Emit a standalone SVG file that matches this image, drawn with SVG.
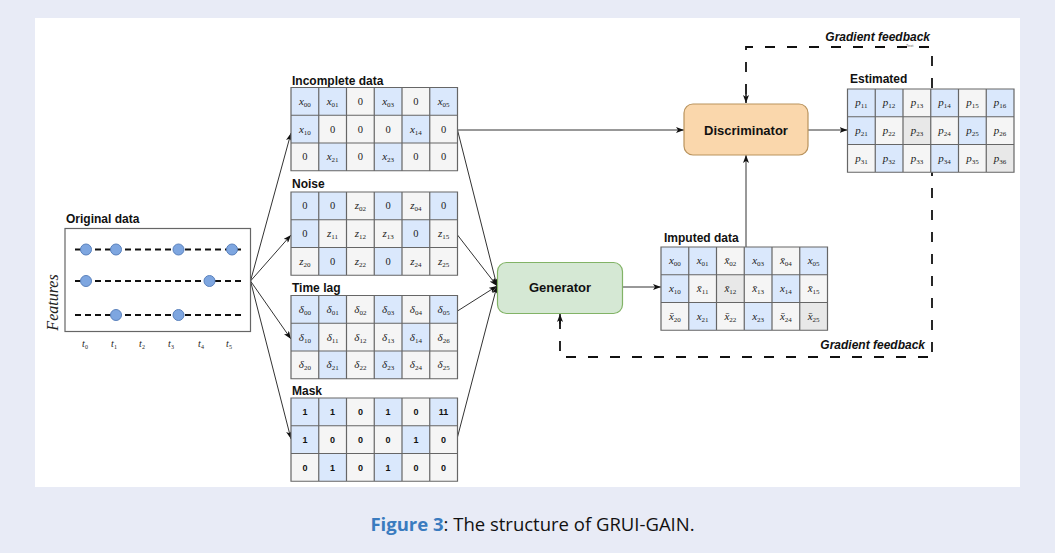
<svg xmlns="http://www.w3.org/2000/svg" xmlns:xlink="http://www.w3.org/1999/xlink" width="1055" height="553" viewBox="0 0 1055 553">
  <style>
    .lbl { font-family: "Liberation Sans", Arial, sans-serif; font-weight: bold; font-size: 12px; fill: #111; }
    .box { font-family: "Liberation Sans", Arial, sans-serif; font-weight: bold; font-size: 13px; fill: #111; text-anchor: middle; }
    .m { font-family: "Liberation Serif", "Times New Roman", serif; font-style: italic; font-size: 11px; fill: #222; text-anchor: middle; }
    .n { font-family: "Liberation Serif", "Times New Roman", serif; font-size: 10.5px; fill: #222; text-anchor: middle; }
    .s { font-style: normal; font-size: 7px; }
    .t { font-size: 10px; }
    .ts { font-style: normal; font-size: 6px; }
    .feat { font-size: 16px; }
    .k { font-family: "Liberation Sans", Arial, sans-serif; font-weight: bold; font-size: 9px; fill: #111; text-anchor: middle; }
    .fb { font-family: "Liberation Sans", Arial, sans-serif; font-weight: bold; font-style: italic; font-size: 12px; fill: #111; text-anchor: end; }
    .edge { fill: none; stroke: #333; stroke-width: 1; marker-end: url(#arr); }
    .fbk { fill: none; stroke: #111; stroke-width: 1.8; stroke-dasharray: 10 12; }
    .dl { stroke: #111; stroke-width: 2; stroke-dasharray: 6 4; }
    .pt { fill: #7ea6e0; stroke: #5b82bd; stroke-width: 1; }
    .cbg { fill: #f5f5f5; }
    .dk { fill: #e8e8e8; }
  </style>
  <defs>
    <marker id="arr" markerUnits="userSpaceOnUse" markerWidth="8" markerHeight="6" refX="8" refY="3" orient="auto">
      <path d="M0,0 L8,3 L0,6 L2,3 z" fill="#111"/>
    </marker>
    <!-- 3x6 table: gray background, blue observed cells, grid lines -->
    <rect id="bg" class="cbg" width="166.5" height="83.25"/>
    <g id="blue" fill="#dae8fc">
      <rect x="0" y="0" width="27.75" height="27.75"/>
      <rect x="27.75" y="0" width="27.75" height="27.75"/>
      <rect x="83.25" y="0" width="27.75" height="27.75"/>
      <rect x="138.75" y="0" width="27.75" height="27.75"/>
      <rect x="0" y="27.75" width="27.75" height="27.75"/>
      <rect x="111" y="27.75" width="27.75" height="27.75"/>
      <rect x="27.75" y="55.5" width="27.75" height="27.75"/>
      <rect x="83.25" y="55.5" width="27.75" height="27.75"/>
    </g>
    <path id="lines" d="M0 0H166.5V83.25H0Z M27.75 0V83.25 M55.5 0V83.25 M83.25 0V83.25 M111 0V83.25 M138.75 0V83.25 M0 27.75H166.5 M0 55.5H166.5" fill="none" stroke="#666" stroke-width="1.2"/>
  </defs>

  <!-- page -->
  <rect width="1055" height="553" fill="#e8ebf6"/>
  <rect x="35" y="18" width="985" height="469" fill="#ffffff"/>

  <!-- connectors -->
  <g id="connectors">
    <path class="edge" d="M250.5 281 L291 133"/>
    <path class="edge" d="M250.5 281 L291 235"/>
    <path class="edge" d="M250.5 281 L291 339"/>
    <path class="edge" d="M250.5 281 L291 439"/>
    <path class="edge" d="M457.5 130 L497 286"/>
    <path class="edge" d="M457.5 235 L497 286"/>
    <path class="edge" d="M457.5 311 L497 286"/>
    <path class="edge" d="M457.5 437 L497 286"/>
    <path class="edge" d="M457.5 130 L684 130"/>
    <path class="edge" d="M622.5 287 L661 287"/>
    <path class="edge" d="M746 247 L746 155"/>
    <path class="edge" d="M808 130 L847.5 130"/>
    <!-- gradient feedback loops -->
    <path class="fbk" d="M932 352 L932 47 L746 47 L746 100"/>
    <path d="M746 94 L746 103" stroke="#111" stroke-width="1.5" marker-end="url(#arr)"/>
    <path class="fbk" d="M928 357 L560 357 L560 320"/>
    <path d="M560 324 L560 314" stroke="#111" stroke-width="1.5" marker-end="url(#arr)"/>
    <text class="fb" x="930" y="41">Gradient feedback</text>
    <text x="906" y="47" font-family="Liberation Sans, Arial, sans-serif" font-size="4" fill="#666">Text</text>
    <text class="fb" x="925" y="349">Gradient feedback</text>
  </g>

  <!-- original data -->
  <g id="original">
    <text class="lbl" x="66" y="223">Original data</text>
    <rect x="65" y="228.5" width="185.5" height="103" fill="#fff" stroke="#666" stroke-width="1.2"/>
    <line class="dl" x1="75" y1="249.5" x2="242" y2="249.5"/>
    <line class="dl" x1="75" y1="281" x2="242" y2="281"/>
    <line class="dl" x1="75" y1="315" x2="242" y2="315"/>
    <circle class="pt" cx="86" cy="249.5" r="5.5"/>
    <circle class="pt" cx="116" cy="249.5" r="5.5"/>
    <circle class="pt" cx="178.5" cy="249.5" r="5.5"/>
    <circle class="pt" cx="232" cy="249.5" r="5.5"/>
    <circle class="pt" cx="86" cy="281" r="5.5"/>
    <circle class="pt" cx="209.5" cy="281" r="5.5"/>
    <circle class="pt" cx="116" cy="315" r="5.5"/>
    <circle class="pt" cx="178.5" cy="315" r="5.5"/>
    <text class="m t" x="85" y="347">t<tspan class="ts" dy="2">0</tspan></text>
    <text class="m t" x="114" y="347">t<tspan class="ts" dy="2">1</tspan></text>
    <text class="m t" x="142" y="347">t<tspan class="ts" dy="2">2</tspan></text>
    <text class="m t" x="171" y="347">t<tspan class="ts" dy="2">3</tspan></text>
    <text class="m t" x="201" y="347">t<tspan class="ts" dy="2">4</tspan></text>
    <text class="m t" x="229" y="347">t<tspan class="ts" dy="2">5</tspan></text>
    <text class="m feat" transform="translate(58 302.5) rotate(-90)" x="0" y="0">Features</text>
  </g>

  <!-- incomplete data -->
  <g id="incomplete">
    <text class="lbl" x="292" y="85">Incomplete data</text>
    <g transform="translate(291 87.5)">
      <use xlink:href="#bg"/><use xlink:href="#blue"/><use xlink:href="#lines"/>
      <text class="m" x="13.9" y="17.4">x<tspan class="s" dy="2">00</tspan></text>
      <text class="m" x="41.6" y="17.4">x<tspan class="s" dy="2">01</tspan></text>
      <text class="n" x="69.4" y="17.4">0</text>
      <text class="m" x="97.1" y="17.4">x<tspan class="s" dy="2">03</tspan></text>
      <text class="n" x="124.9" y="17.4">0</text>
      <text class="m" x="152.6" y="17.4">x<tspan class="s" dy="2">05</tspan></text>
      <text class="m" x="13.9" y="45.1">x<tspan class="s" dy="2">10</tspan></text>
      <text class="n" x="41.6" y="45.1">0</text>
      <text class="n" x="69.4" y="45.1">0</text>
      <text class="n" x="97.1" y="45.1">0</text>
      <text class="m" x="124.9" y="45.1">x<tspan class="s" dy="2">14</tspan></text>
      <text class="n" x="152.6" y="45.1">0</text>
      <text class="n" x="13.9" y="72.9">0</text>
      <text class="m" x="41.6" y="72.9">x<tspan class="s" dy="2">21</tspan></text>
      <text class="n" x="69.4" y="72.9">0</text>
      <text class="m" x="97.1" y="72.9">x<tspan class="s" dy="2">23</tspan></text>
      <text class="n" x="124.9" y="72.9">0</text>
      <text class="n" x="152.6" y="72.9">0</text>
    </g>
  </g>

  <!-- noise -->
  <g id="noise">
    <text class="lbl" x="292" y="188">Noise</text>
    <g transform="translate(291 192)">
      <use xlink:href="#bg"/><use xlink:href="#blue"/><use xlink:href="#lines"/>
      <text class="n" x="13.9" y="17.4">0</text>
      <text class="n" x="41.6" y="17.4">0</text>
      <text class="m" x="69.4" y="17.4">z<tspan class="s" dy="2">02</tspan></text>
      <text class="n" x="97.1" y="17.4">0</text>
      <text class="m" x="124.9" y="17.4">z<tspan class="s" dy="2">04</tspan></text>
      <text class="n" x="152.6" y="17.4">0</text>
      <text class="n" x="13.9" y="45.1">0</text>
      <text class="m" x="41.6" y="45.1">z<tspan class="s" dy="2">11</tspan></text>
      <text class="m" x="69.4" y="45.1">z<tspan class="s" dy="2">12</tspan></text>
      <text class="m" x="97.1" y="45.1">z<tspan class="s" dy="2">13</tspan></text>
      <text class="n" x="124.9" y="45.1">0</text>
      <text class="m" x="152.6" y="45.1">z<tspan class="s" dy="2">15</tspan></text>
      <text class="m" x="13.9" y="72.9">z<tspan class="s" dy="2">20</tspan></text>
      <text class="n" x="41.6" y="72.9">0</text>
      <text class="m" x="69.4" y="72.9">z<tspan class="s" dy="2">22</tspan></text>
      <text class="n" x="97.1" y="72.9">0</text>
      <text class="m" x="124.9" y="72.9">z<tspan class="s" dy="2">24</tspan></text>
      <text class="m" x="152.6" y="72.9">z<tspan class="s" dy="2">25</tspan></text>
    </g>
  </g>

  <!-- time lag -->
  <g id="timelag">
    <text class="lbl" x="292" y="292">Time lag</text>
    <g transform="translate(291 295.5)">
      <use xlink:href="#bg"/><use xlink:href="#blue"/><use xlink:href="#lines"/>
      <text class="m" x="13.9" y="17.4">δ<tspan class="s" dy="2">00</tspan></text>
      <text class="m" x="41.6" y="17.4">δ<tspan class="s" dy="2">01</tspan></text>
      <text class="m" x="69.4" y="17.4">δ<tspan class="s" dy="2">02</tspan></text>
      <text class="m" x="97.1" y="17.4">δ<tspan class="s" dy="2">03</tspan></text>
      <text class="m" x="124.9" y="17.4">δ<tspan class="s" dy="2">04</tspan></text>
      <text class="m" x="152.6" y="17.4">δ<tspan class="s" dy="2">05</tspan></text>
      <text class="m" x="13.9" y="45.1">δ<tspan class="s" dy="2">10</tspan></text>
      <text class="m" x="41.6" y="45.1">δ<tspan class="s" dy="2">11</tspan></text>
      <text class="m" x="69.4" y="45.1">δ<tspan class="s" dy="2">12</tspan></text>
      <text class="m" x="97.1" y="45.1">δ<tspan class="s" dy="2">13</tspan></text>
      <text class="m" x="124.9" y="45.1">δ<tspan class="s" dy="2">14</tspan></text>
      <text class="m" x="152.6" y="45.1">δ<tspan class="s" dy="2">26</tspan></text>
      <text class="m" x="13.9" y="72.9">δ<tspan class="s" dy="2">20</tspan></text>
      <text class="m" x="41.6" y="72.9">δ<tspan class="s" dy="2">21</tspan></text>
      <text class="m" x="69.4" y="72.9">δ<tspan class="s" dy="2">22</tspan></text>
      <text class="m" x="97.1" y="72.9">δ<tspan class="s" dy="2">23</tspan></text>
      <text class="m" x="124.9" y="72.9">δ<tspan class="s" dy="2">24</tspan></text>
      <text class="m" x="152.6" y="72.9">δ<tspan class="s" dy="2">25</tspan></text>
    </g>
  </g>

  <!-- mask -->
  <g id="mask">
    <text class="lbl" x="292" y="395">Mask</text>
    <g transform="translate(291 398)">
      <use xlink:href="#bg"/><use xlink:href="#blue"/><use xlink:href="#lines"/>
      <text class="k" x="13.9" y="17">1</text>
      <text class="k" x="41.6" y="17">1</text>
      <text class="k" x="69.4" y="17">0</text>
      <text class="k" x="97.1" y="17">1</text>
      <text class="k" x="124.9" y="17">0</text>
      <text class="k" x="152.6" y="17">11</text>
      <text class="k" x="13.9" y="44.7">1</text>
      <text class="k" x="41.6" y="44.7">0</text>
      <text class="k" x="69.4" y="44.7">0</text>
      <text class="k" x="97.1" y="44.7">0</text>
      <text class="k" x="124.9" y="44.7">1</text>
      <text class="k" x="152.6" y="44.7">0</text>
      <text class="k" x="13.9" y="72.5">0</text>
      <text class="k" x="41.6" y="72.5">1</text>
      <text class="k" x="69.4" y="72.5">0</text>
      <text class="k" x="97.1" y="72.5">1</text>
      <text class="k" x="124.9" y="72.5">0</text>
      <text class="k" x="152.6" y="72.5">0</text>
    </g>
  </g>

  <!-- generator -->
  <g id="generator">
    <rect x="497.5" y="262.5" width="125" height="51" rx="9" fill="#d5e8d4" stroke="#82b366" stroke-width="1.2"/>
    <text class="box" x="560" y="292">Generator</text>
  </g>

  <!-- discriminator -->
  <g id="discriminator">
    <rect x="684" y="104" width="124" height="51" rx="9" fill="#fad7ac" stroke="#b9935d" stroke-width="1.2"/>
    <text class="box" x="746" y="134.5">Discriminator</text>
  </g>

  <!-- imputed data -->
  <g id="imputed">
    <text class="lbl" x="664" y="242">Imputed data</text>
    <g transform="translate(661 247)">
      <use xlink:href="#bg"/><use xlink:href="#blue"/>
      <rect class="dk" x="55.5" y="27.75" width="27.75" height="27.75"/>
      <rect class="dk" x="138.75" y="55.5" width="27.75" height="27.75"/>
      <use xlink:href="#lines"/>
      <text class="m" x="13.9" y="17.4">x<tspan class="s" dy="2">00</tspan></text>
      <text class="m" x="41.6" y="17.4">x<tspan class="s" dy="2">01</tspan></text>
      <text class="m" x="69.4" y="17.4">x̄<tspan class="s" dy="2">02</tspan></text>
      <text class="m" x="97.1" y="17.4">x<tspan class="s" dy="2">03</tspan></text>
      <text class="m" x="124.9" y="17.4">x̄<tspan class="s" dy="2">04</tspan></text>
      <text class="m" x="152.6" y="17.4">x<tspan class="s" dy="2">05</tspan></text>
      <text class="m" x="13.9" y="45.1">x<tspan class="s" dy="2">10</tspan></text>
      <text class="m" x="41.6" y="45.1">x̄<tspan class="s" dy="2">11</tspan></text>
      <text class="m" x="69.4" y="45.1">x̄<tspan class="s" dy="2">12</tspan></text>
      <text class="m" x="97.1" y="45.1">x̄<tspan class="s" dy="2">13</tspan></text>
      <text class="m" x="124.9" y="45.1">x<tspan class="s" dy="2">14</tspan></text>
      <text class="m" x="152.6" y="45.1">x̄<tspan class="s" dy="2">15</tspan></text>
      <text class="m" x="13.9" y="72.9">x̄<tspan class="s" dy="2">20</tspan></text>
      <text class="m" x="41.6" y="72.9">x<tspan class="s" dy="2">21</tspan></text>
      <text class="m" x="69.4" y="72.9">x̄<tspan class="s" dy="2">22</tspan></text>
      <text class="m" x="97.1" y="72.9">x<tspan class="s" dy="2">23</tspan></text>
      <text class="m" x="124.9" y="72.9">x̄<tspan class="s" dy="2">24</tspan></text>
      <text class="m" x="152.6" y="72.9">x̄<tspan class="s" dy="2">25</tspan></text>
    </g>
  </g>

  <!-- estimated -->
  <g id="estimated">
    <text class="lbl" x="850" y="83">Estimated</text>
    <g transform="translate(847.5 89)">
      <use xlink:href="#bg"/><use xlink:href="#blue"/>
      <rect class="dk" x="55.5" y="27.75" width="27.75" height="27.75"/>
      <rect class="dk" x="138.75" y="55.5" width="27.75" height="27.75"/>
      <use xlink:href="#lines"/>
      <text class="m" x="13.9" y="17.4">p<tspan class="s" dy="2">11</tspan></text>
      <text class="m" x="41.6" y="17.4">p<tspan class="s" dy="2">12</tspan></text>
      <text class="m" x="69.4" y="17.4">p<tspan class="s" dy="2">13</tspan></text>
      <text class="m" x="97.1" y="17.4">p<tspan class="s" dy="2">14</tspan></text>
      <text class="m" x="124.9" y="17.4">p<tspan class="s" dy="2">15</tspan></text>
      <text class="m" x="152.6" y="17.4">p<tspan class="s" dy="2">16</tspan></text>
      <text class="m" x="13.9" y="45.1">p<tspan class="s" dy="2">21</tspan></text>
      <text class="m" x="41.6" y="45.1">p<tspan class="s" dy="2">22</tspan></text>
      <text class="m" x="69.4" y="45.1">p<tspan class="s" dy="2">23</tspan></text>
      <text class="m" x="97.1" y="45.1">p<tspan class="s" dy="2">24</tspan></text>
      <text class="m" x="124.9" y="45.1">p<tspan class="s" dy="2">25</tspan></text>
      <text class="m" x="152.6" y="45.1">p<tspan class="s" dy="2">26</tspan></text>
      <text class="m" x="13.9" y="72.9">p<tspan class="s" dy="2">31</tspan></text>
      <text class="m" x="41.6" y="72.9">p<tspan class="s" dy="2">32</tspan></text>
      <text class="m" x="69.4" y="72.9">p<tspan class="s" dy="2">33</tspan></text>
      <text class="m" x="97.1" y="72.9">p<tspan class="s" dy="2">34</tspan></text>
      <text class="m" x="124.9" y="72.9">p<tspan class="s" dy="2">35</tspan></text>
      <text class="m" x="152.6" y="72.9">p<tspan class="s" dy="2">36</tspan></text>
    </g>
  </g>

  <!-- caption -->
  <text x="532.5" y="531" text-anchor="middle" font-family="'Open Sans', 'Noto Sans', sans-serif" font-size="18.5" fill="#111"><tspan fill="#3a7bbf" font-weight="bold">Figure 3</tspan>: The structure of GRUI-GAIN.</text>
</svg>
